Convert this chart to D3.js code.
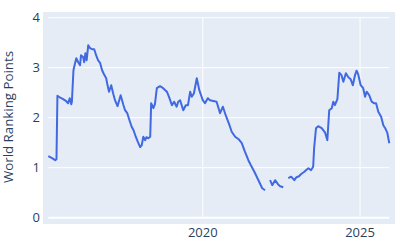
<!DOCTYPE html>
<html>
<head>
<meta charset="utf-8">
<script src="https://cdn.jsdelivr.net/npm/d3@7"></script>
<style>
  body { margin: 0; background: #fff; }
  svg { display: block; font-family: "Open Sans", sans-serif; }
</style>
</head>
<body>
<div id="chart"></div>
<script>
// decimal years and ranking points, null marks a gap in the record
var years = [
  2015.09, 2015.21, 2015.31, 2015.35, 2015.38, 2015.47, 2015.56, 2015.66, 2015.72, 2015.77,
  2015.82, 2015.84, 2015.89, 2015.94, 2015.98, 2016.04, 2016.10, 2016.13, 2016.20, 2016.23,
  2016.27, 2016.31, 2016.36, 2016.42, 2016.48, 2016.55, 2016.61, 2016.67, 2016.74, 2016.80,
  2016.86, 2016.93, 2016.96, 2017.02, 2017.09, 2017.15, 2017.21, 2017.29, 2017.39, 2017.47,
  2017.53, 2017.60, 2017.67, 2017.74, 2017.80, 2017.87, 2017.94, 2018.01, 2018.06, 2018.11,
  2018.17, 2018.21, 2018.27, 2018.33, 2018.36, 2018.43, 2018.48, 2018.54, 2018.64, 2018.74,
  2018.86, 2018.93, 2019.02, 2019.09, 2019.17, 2019.22, 2019.28, 2019.38, 2019.46, 2019.53,
  2019.60, 2019.65, 2019.72, 2019.81, 2019.89, 2020.00, 2020.07, 2020.16, 2020.23, 2020.44,
  2020.55, 2020.64, 2020.74, 2020.85, 2020.92, 2021.03, 2021.14, 2021.24, 2021.34, 2021.45,
  2021.53, 2021.64, 2021.77, 2021.89, 2021.98,
  2022.06,
  2022.14, 2022.21, 2022.30, 2022.39, 2022.46, 2022.56,
  2022.64,
  2022.72, 2022.81, 2022.91, 2022.98, 2023.06, 2023.12, 2023.23, 2023.28, 2023.36, 2023.44,
  2023.51, 2023.54, 2023.60, 2023.67, 2023.78, 2023.89, 2023.96, 2024.02, 2024.10, 2024.15,
  2024.20, 2024.28, 2024.34, 2024.41, 2024.47, 2024.55, 2024.63, 2024.70, 2024.77, 2024.84,
  2024.89, 2024.94, 2025.02, 2025.10, 2025.16, 2025.21, 2025.29, 2025.37, 2025.44, 2025.51,
  2025.58, 2025.67, 2025.74, 2025.80, 2025.87, 2025.93
];
var points = [
  1.23, 1.19, 1.15, 1.17, 2.44, 2.40, 2.37, 2.33, 2.29, 2.39,
  2.27, 2.32, 2.95, 3.09, 3.19, 3.11, 3.05, 3.25, 3.21, 3.11,
  3.29, 3.15, 3.45, 3.39, 3.37, 3.37, 3.25, 3.15, 3.09, 2.95,
  2.87, 2.79, 2.69, 2.52, 2.65, 2.49, 2.35, 2.23, 2.45, 2.27,
  2.15, 2.09, 1.95, 1.82, 1.75, 1.62, 1.51, 1.41, 1.45, 1.62,
  1.55, 1.61, 1.59, 1.62, 2.29, 2.19, 2.27, 2.59, 2.63, 2.59,
  2.52, 2.41, 2.25, 2.32, 2.22, 2.32, 2.35, 2.15, 2.25, 2.25,
  2.52, 2.42, 2.49, 2.79, 2.55, 2.35, 2.29, 2.39, 2.35, 2.32,
  2.09, 2.22, 2.03, 1.85, 1.72, 1.62, 1.57, 1.49, 1.32, 1.15,
  1.05, 0.92, 0.75, 0.59, 0.55,
  null,
  0.75, 0.65, 0.75, 0.67, 0.63, 0.61,
  null,
  0.79, 0.82, 0.75, 0.81, 0.83, 0.87, 0.92, 0.95, 0.99, 0.95,
  1.02, 1.39, 1.79, 1.83, 1.79, 1.70, 1.55, 2.15, 2.19, 2.32,
  2.25, 2.37, 2.90, 2.85, 2.72, 2.89, 2.81, 2.77, 2.65, 2.85,
  2.94, 2.87, 2.65, 2.59, 2.42, 2.52, 2.45, 2.32, 2.29, 2.29,
  2.12, 2.02, 1.85, 1.79, 1.69, 1.49
];
var xTicks = [2020, 2025];
var yTicks = [0, 1, 2, 3, 4];

var width = 400, height = 250;
var bg = {left: 43, right: 395, top: 12, bottom: 224};

var data = years.map(function(y, i) { return {year: y, value: points[i]}; });

var x = d3.scaleLinear()
  .domain(d3.extent(years))
  .range([48.3, 389.3]);
var y = d3.scaleLinear()
  .domain([0, 4])
  .range([217.7, 17.7]);

var svg = d3.select("#chart").append("svg")
  .attr("width", width)
  .attr("height", height);

svg.append("rect")
  .attr("x", bg.left).attr("y", bg.top)
  .attr("width", bg.right - bg.left)
  .attr("height", bg.bottom - bg.top)
  .attr("fill", "#e5ecf6");

// grid
svg.append("g").selectAll("line").data(xTicks).join("line")
  .attr("x1", d => x(d)).attr("x2", d => x(d))
  .attr("y1", y(4)).attr("y2", y(0))
  .attr("stroke", "#fff").attr("stroke-width", 1);

svg.append("g").selectAll("line").data(yTicks).join("line")
  .attr("x1", x.range()[0]).attr("x2", x.range()[1])
  .attr("y1", d => y(d)).attr("y2", d => y(d))
  .attr("stroke", "#fff")
  .attr("stroke-width", d => d === 0 ? 2 : 1);

// axes labels
svg.append("g").selectAll("text").data(yTicks).join("text")
  .attr("x", 40).attr("y", d => y(d))
  .attr("dy", "0.35em")
  .attr("text-anchor", "end")
  .attr("font-size", 13)
  .attr("fill", "#2a3f5f")
  .text(d => d);

svg.append("g").selectAll("text").data(xTicks).join("text")
  .attr("x", d => x(d)).attr("y", 237)
  .attr("text-anchor", "middle")
  .attr("font-size", 13)
  .attr("fill", "#2a3f5f")
  .text(d => d);

svg.append("text")
  .attr("transform", "translate(13,117) rotate(-90)")
  .attr("text-anchor", "middle")
  .attr("font-size", 13.3)
  .attr("fill", "#2a3f5f")
  .text("World Ranking Points");

// line
var line = d3.line()
  .defined(d => d.value !== null)
  .x(d => x(d.year))
  .y(d => y(d.value));

svg.append("path")
  .datum(data)
  .attr("d", line)
  .attr("fill", "none")
  .attr("stroke", "#4169e1")
  .attr("stroke-width", 2)
  .attr("stroke-linejoin", "round");
</script>
</body>
</html>
